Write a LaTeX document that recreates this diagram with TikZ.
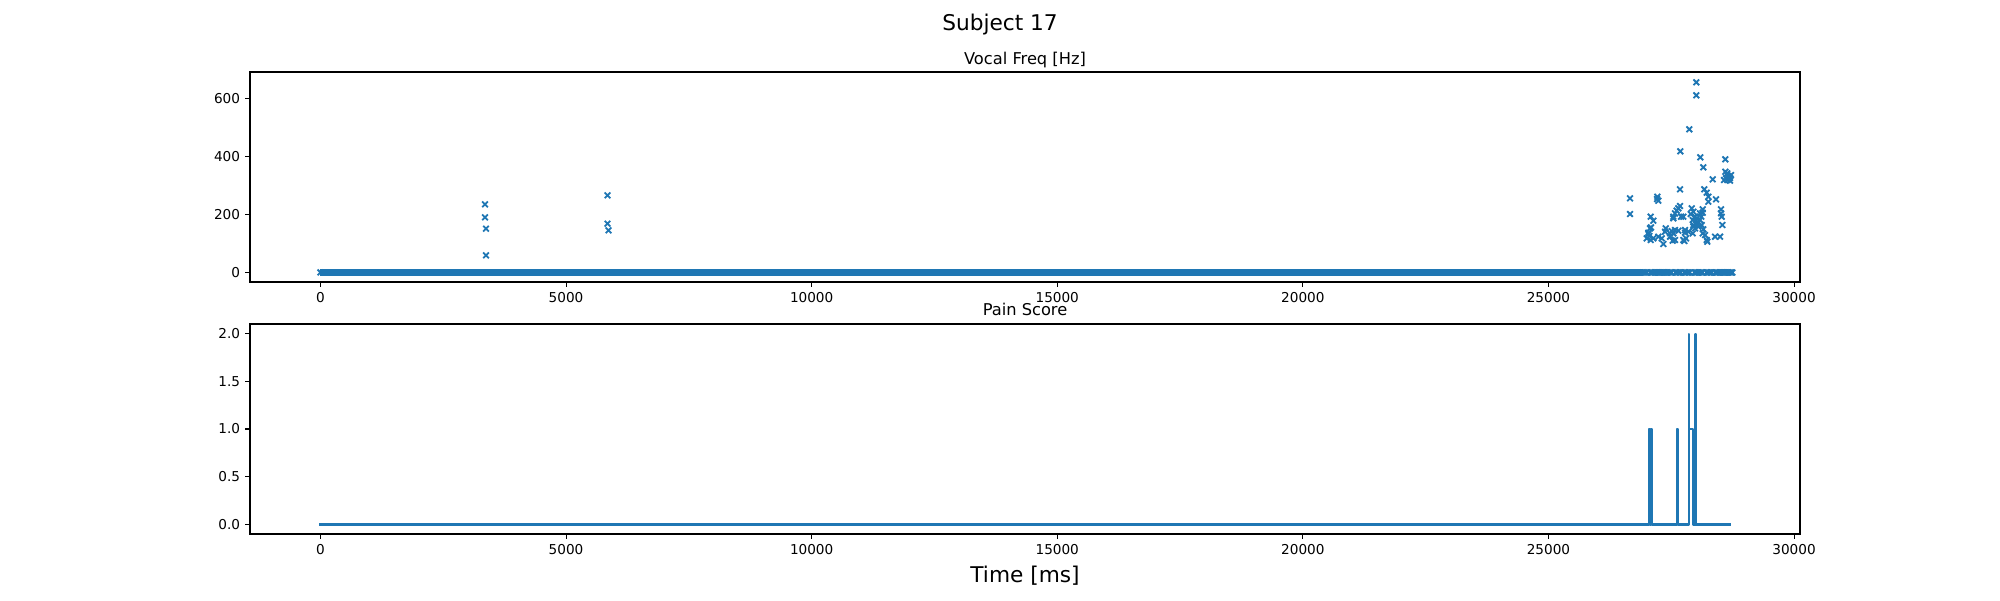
\documentclass[tikz,border=0pt]{standalone}
\usepackage{fontspec}
\setmainfont{DejaVu Sans}
\usetikzlibrary{shapes.misc}
\definecolor{tabblue}{RGB}{31,119,180}
\begin{document}
\begin{tikzpicture}[x=0.72pt,y=-0.72pt,
  spine/.style={line width=0.8pt, black},
  tickmark/.style={line width=0.8pt, black},
  ticklab/.style={font=\fontsize{9.8}{11}\selectfont, inner sep=0pt, text=black},
  xtl/.style={ticklab, anchor=base},
  ytl/.style={ticklab, anchor=base east},
  ttl/.style={font=\fontsize{11.7}{13}\selectfont, inner sep=0pt, anchor=base},
  big/.style={font=\fontsize{15.6}{18}\selectfont, inner sep=0pt, anchor=base},
  mk/.style={cross out, draw=tabblue, line width=1.3pt, minimum size=4.1pt, inner sep=0pt, outer sep=0pt},
  painline/.style={tabblue, line width=1.5pt, line join=round, line cap=rect}]

\useasboundingbox (0,0) rectangle (2000,600);
\fill[white] (0,0) rectangle (2000,600);

% ---------------- top axes: Vocal Freq scatter ----------------
% dense zero band
\fill[tabblue] (320.45,269.0) rectangle (1643,275.9);
\node[mk] (b0) at (320.45,272.45) {};
\foreach \x [count=\i] in {1643,1644.3,...,1647.2,1650.5,1651.8,...,1672,1675.5,1676.8,...,1681,1684.5,1685.8,...,1691,1694.5,1695.8,...,1703,1706.5,1707.8,...,1712,1715.5,1716.8,...,1733}
  \node[mk] (b\i) at (\x,272.45) {};

% non-zero samples
\foreach \p [count=\i] in {
 (485,204.3),(485,217.3),(486,228.7),(486,255.3),
 (607.5,195.3),(607.5,223.7),(608.5,230.3),
 (1696.3,82.3),(1696.3,95.3),(1689.3,129.3),(1680.3,151.3),(1700.3,157.3),(1703.3,167.3),(1725.3,159.3),
 (1725.3,171.7),(1727.3,173.3),(1726.7,174),(1728.3,176),(1730,178),(1726,178.3),(1729.3,178.3),(1724,180),(1727.3,180),(1730,180.7),(1731,175),
 (1712.7,179.3),(1680,189.3),
 (1704.3,189.3),(1706.7,192.7),(1708.3,196.7),(1708.3,201.7),
 (1716,199.3),
 (1721,209.3),(1721,213.3),(1721.7,216.7),(1722.3,225),
 (1630,198.3),(1630,214),
 (1657.3,196.7),(1658.3,200.7),(1657,199),
 (1680,206),(1678.3,208.3),(1676.7,210.7),(1675,213.3),(1673.3,216.7),(1673.3,218.3),
 (1681,216.7),(1683.3,216.7),
 (1691.7,208.3),(1693.3,211.7),(1690.7,214),(1695,216.7),(1696,220),(1697.3,223.3),(1700,220),(1692.7,220),(1696.7,218.3),
 (1702.7,209.3),(1702.7,212.7),(1701.3,216.7),(1700,213.3),
 (1650.7,216.7),(1653.3,220.7),
 (1651,227.3),(1650,228.3),
 (1648.3,232.7),(1646.7,238.3),(1650.7,240),(1653.3,238.3),(1649.3,236),(1648.3,234),
 (1658.3,236.7),(1661.7,238.3),
 (1665.7,228.3),(1665,231.7),
 (1663.3,244),
 (1671.7,231),(1675,230),(1678.3,230.7),(1673.3,233.3),(1670,233.3),(1670,236.7),(1675,240),
 (1672.7,240.7),
 (1685,232.7),(1686,238.3),(1684.3,241),(1685,230),(1683.3,240),
 (1688.3,231.7),
 (1693.3,225),(1695,228.3),(1692.7,233.3),(1693.3,226.7),
 (1698.3,226.7),(1701.7,225),(1703.3,229.3),
 (1702.7,233.3),(1705,235),(1706.7,240),(1707.3,241.7),
 (1715,236.7),(1720,236.7)}
  \node[mk] (s\i) at \p {};

% frame and ticks
\draw[spine] (250,72) rectangle (1800,282);
\foreach \x/\lab [count=\i] in {320.45/0,566.05/5000,811.65/10000,1057.25/15000,1302.85/20000,1548.45/25000,1794.05/30000}{
  \draw[tickmark] (\x,282) -- ++(0,4.86);
  \node[xtl] (tx\i) at (\x,302.3) {\lab};
}
\foreach \y/\lab [count=\i] in {272.45/0,214.42/200,156.39/400,98.37/600}{
  \draw[tickmark] (250,\y) -- ++(-4.86,0);
  \node[ytl] (ty\i) at (240.3,\y+4.8) {\lab};
}
\node[ttl] (t1) at (1025,64) {Vocal Freq [Hz]};

% ---------------- bottom axes: Pain Score ----------------
\begin{scope}[xshift=230.724pt, yshift=-377.604pt, x=0.0353664pt, y=68.724pt]
\draw[painline] (0,0) -- (27045,0) -- (27045,1) -- (27062,1) -- (27062,0) -- (27082,0) -- (27082,1) -- (27100,1) -- (27100,0)
  -- (27622,0) -- (27622,1) -- (27634,1) -- (27634,0)
  -- (27850,0) -- (27850,2) -- (27866,2) -- (27866,1) -- (27945,1) -- (27945,0)
  -- (27990,0) -- (27990,2) -- (28008,2) -- (28008,0) -- (28696,0);
\end{scope}

\draw[spine] (250,324) rectangle (1800,534);
\foreach \x/\lab [count=\i] in {320.45/0,566.05/5000,811.65/10000,1057.25/15000,1302.85/20000,1548.45/25000,1794.05/30000}{
  \draw[tickmark] (\x,534) -- ++(0,4.86);
  \node[xtl] (bx\i) at (\x,554.3) {\lab};
}
\foreach \y/\lab [count=\i] in {524.45/0.0,476.72/0.5,429.0/1.0,381.27/1.5,333.55/2.0}{
  \draw[tickmark] (250,\y) -- ++(-4.86,0);
  \node[ytl] (by\i) at (240.3,\y+4.8) {\lab};
}
\node[ttl] (t2) at (1025,315.7) {Pain Score};

% ---------------- figure texts ----------------
\node[big] (sup) at (1000,30.7) {Subject 17};
\node[big] (xl) at (1025,582.3) {Time [ms]};
\end{tikzpicture}
\end{document}
